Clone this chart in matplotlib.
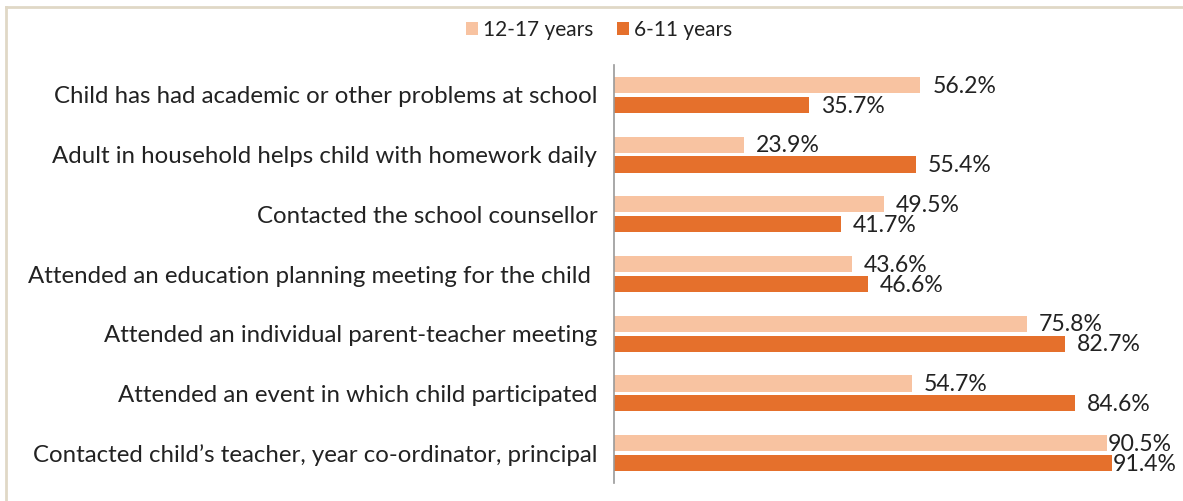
import numpy as np
import matplotlib.pyplot as plt
from matplotlib.lines import Line2D

categories = ['Child has had academic or other problems at school',
              'Adult in household helps child with homework daily',
              'Contacted the school counsellor',
              'Attended an education planning meeting for the child ',
              'Attended an individual parent-teacher meeting',
              'Attended an event in which child participated',
              'Contacted child\u2019s teacher, year co-ordinator, principal']
older = [56.2, 23.9, 49.5, 43.6, 75.8, 54.7, 90.5]    # 12-17 years
younger = [35.7, 55.4, 41.7, 46.6, 82.7, 84.6, 91.4]  # 6-11 years

light = '#f8c3a1'
dark = '#e5702c'
plt.rcParams['font.family'] = ['Lato', 'DejaVu Sans']

fig = plt.figure(figsize=(11.83, 5.01), dpi=100)
ax = fig.add_axes([614/1183, 18/501, 545/1183, 418/501])

y = np.arange(len(categories))
h = 0.27
off = 0.167
ax.barh(y - off, older, height=h, color=light, label='12-17 years')
ax.barh(y + off, younger, height=h, color=dark, label='6-11 years')

for i in range(len(categories)):
    for v, yy in ((older[i], y[i] - off), (younger[i], y[i] + off)):
        pad = 2.2 if v < 88 else 0.1
        ax.text(v + pad, yy + 0.02, '%.1f%%' % v, va='center', ha='left', fontsize=16.6, color='#222222')

ax.set_xlim(0, 100)
ax.set_ylim(len(categories) - 0.5, -0.5)
ax.set_yticks(y)
ax.set_yticklabels(categories, fontsize=17.3, color='#222222')
ax.tick_params(axis='y', length=0, pad=12)
ax.set_xticks([])
for s in ['top', 'right', 'bottom']:
    ax.spines[s].set_visible(False)
ax.spines['left'].set_color('#999999')
ax.spines['left'].set_linewidth(1.2)

fig.legend(loc='center', bbox_to_anchor=(599/1183, 1 - 30/501), ncol=2, frameon=False,
           fontsize=15, handlelength=0.55, handleheight=0.55, handletextpad=0.25, columnspacing=1.15,
           labelcolor='#222222')

# frame lines at top and left
fig.add_artist(Line2D([6/1183, 1], [1 - 7/501, 1 - 7/501], transform=fig.transFigure, color='#e0d8c6', lw=2))
fig.add_artist(Line2D([6/1183, 6/1183], [0, 1 - 7/501], transform=fig.transFigure, color='#e0d8c6', lw=2))

fig.savefig('out.png', dpi=100)
